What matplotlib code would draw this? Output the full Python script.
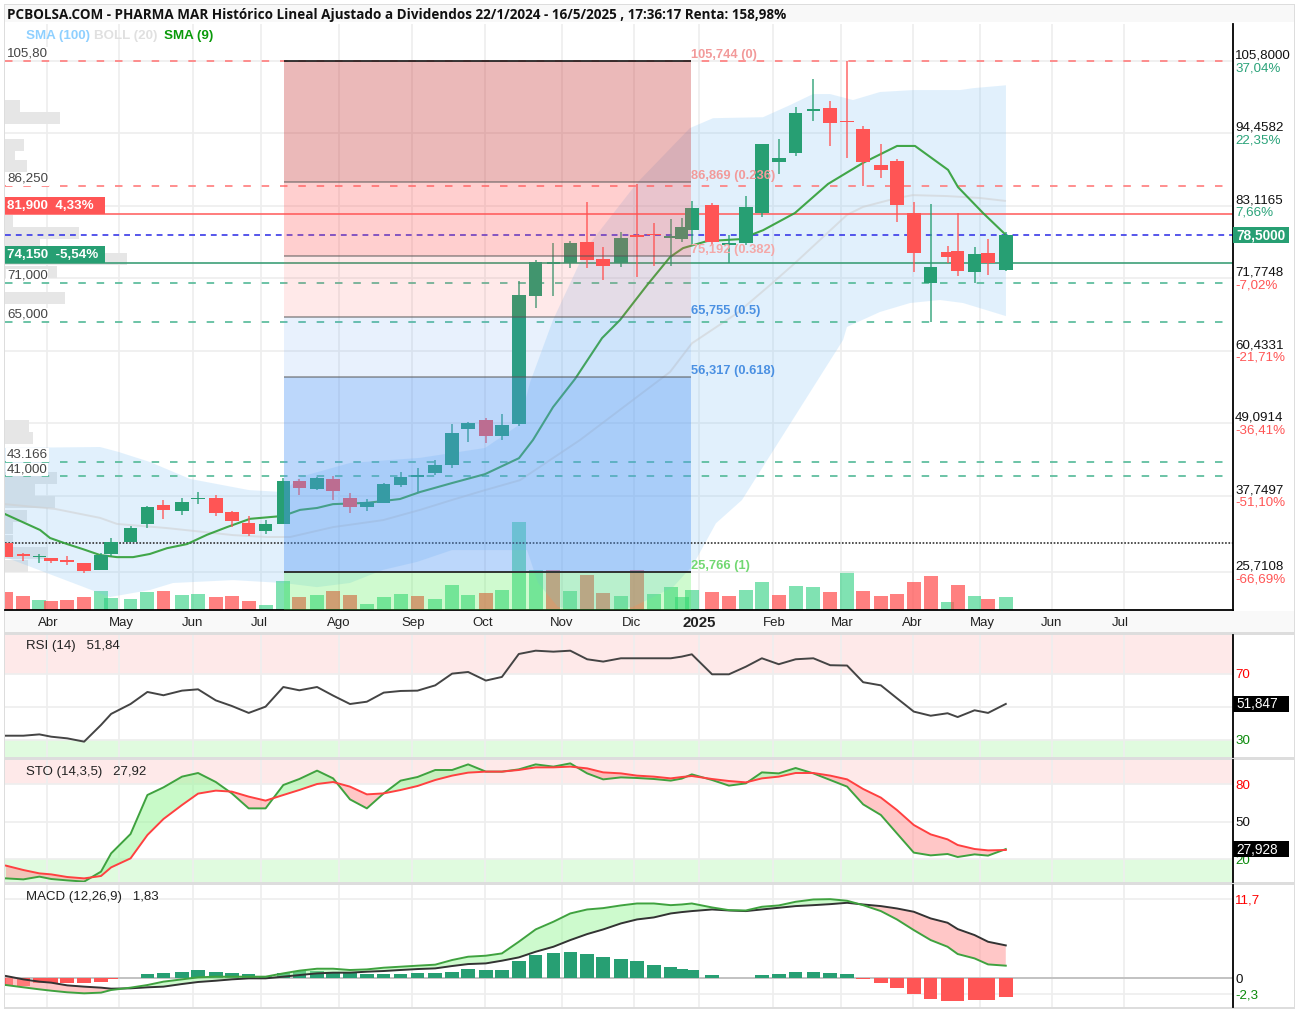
import numpy as np
import matplotlib
matplotlib.use("Agg")
import matplotlib.pyplot as plt
from matplotlib.patches import Rectangle

plt.rcParams['font.family'] = ['Liberation Sans', 'DejaVu Sans']

# ---------- data ----------
bar_week = [-0.18,0.85,1.8,2.5,3.45,4.45,5.45,6.05,7.2,8.2,9.15,10.25,11.2,12.25,13.2,14.2,15.2,16.25,17.2,18.25,
            19.2,20.2,21.2,22.2,23.2,24.2,25.25,26.25,27.2,28.25,29.2,30.2,31.2,32.25,33.25,34.25,35.2,36.25,37.2,38.2,
            39.2,39.85,40.45,41.65,42.65,43.65,44.6,45.6,46.6,47.65,48.65,49.65,50.6,51.65,52.6,53.6,54.6,55.6,56.2,57.2,58.0,59.05]
opens = [30.35,28.5,28.05,28.0,27.5,27.2,26.03,28.6,30.5,33.3,36.2,35.25,37.15,37.35,35.2,33.5,32.15,33.3,40.1,38.75,
         40.35,37.35,35.9,36.6,39.4,40.65,41.25,42.5,48.2,49.5,47.1,49.0,69.0,74.0,74.1,77.5,74.75,74.1,78.4,78.65,
         78.15,77.9,79.35,83.2,76.95,77.25,82.04,89.93,91.35,98.05,98.45,96.4,95.15,89.45,90.2,82.0,71.08,75.9,76.1,72.7,75.75,73.1]
highs = [30.35,28.8,28.6,28.0,28.3,27.2,28.8,31.08,32.97,36.15,37.04,37.3,38.35,37.8,35.3,34.5,33.85,40.55,40.4,40.6,
         40.8,38.1,37.15,39.7,41.5,42.0,43.3,48.95,49.25,49.9,50.5,71.4,74.65,77.34,77.6,83.76,76.7,79.07,86.55,80.4,
         81.0,81.25,83.9,83.5,78.55,84.7,92.8,93.54,98.65,102.93,99.6,105.85,95.65,92.75,90.4,83.75,83.35,76.85,81.95,76.7,77.9,79.1]
lows = [28.07,27.45,27.2,27.2,26.85,25.65,26.03,28.2,30.5,32.65,34.1,34.7,36.35,34.5,32.8,31.45,31.75,33.3,37.8,38.6,
        37.05,34.95,35.25,36.55,39.05,38.35,40.95,42.05,46.15,45.95,46.45,48.65,67.07,69.0,73.4,73.4,71.5,73.5,71.9,73.7,
        73.7,77.5,77.0,77.0,74.2,77.0,81.4,88.05,90.9,96.4,92.5,90.55,86.3,87.45,80.55,72.7,65.0,74.2,72.2,71.1,72.3,72.9]
closes = [28.07,28.35,28.2,27.5,27.35,25.95,28.43,30.5,32.7,36.0,35.47,36.7,37.3,35.05,33.7,31.7,33.3,40.1,38.95,40.5,
          38.4,35.9,36.75,39.55,40.7,40.8,42.5,47.6,49.1,47.1,48.75,69.1,74.37,74.3,77.34,74.65,73.65,78.1,78.25,78.5,
          78.4,79.85,82.8,77.45,77.1,83.0,92.75,90.65,97.65,98.2,96.05,96.2,89.95,88.8,83.3,75.7,73.55,75.05,72.9,75.55,74.2,78.5]
volume = [17.7,14,10.3,8.7,10.3,12.7,19,12.3,11.3,17.7,19,15.3,16.3,12.7,14,9,5.3,28.7,12.7,15.3,19,15.3,6.3,12.7,16.3,14,
          10.7,25.3,15.3,16.7,20.3,88,40.3,40.3,19.3,35.3,16.7,14,40.3,16.3,23,12.7,20.3,18,14,20.3,28,15.3,24.3,23,18,39,
          19.3,14,16.3,28,34,7.7,25.3,14,11.3,12.7]
volume_dir = "RRGRRRGGGGRGGRRRGGRGRRGGGRGGGRGGGRGRRGRGGGGRRGGRGGRGRRRRRGRGRG"

sma9_week = [-0.24,1.84,2.43,3.44,4.38,5.39,6.4,7.35,8.35,9.36,10.55,11.73,12.91,14.28,16.23,17.24,18.25,19.19,21.21,23.16,
             24.35,26.24,28.2,30.21,31.04,32.23,33.53,35.13,36.2,37.8,39.16,39.93,41.35,43.31,44.67,46.56,48.52,50.59,52.61,53.67,55.63,56.22,57.7,59.0]
sma9 = [34.85,32.35,31.1,30.15,29.35,28.43,28.1,28.1,28.6,29.5,30.15,31.6,32.8,34.1,34.55,35.5,35.8,36.4,36.6,37.2,
        38.3,39.7,41.1,43.6,46.45,51.6,56.0,62.4,65.25,70.7,75.1,76.5,77.6,77.9,79.3,82.0,86.55,89.85,92.5,92.5,88.75,86.05,82.0,78.7]
mid_week = [-0.24,2.73,5.39,6.4,9.36,13.27,15.28,16.65,19.19,22.16,24.35,26.24,28.2,30.27,33.83,39.16,40.46,43.13,45.08,46.56,49.64,50.59,52.61,53.55,55.57,57.52,59.0]
mid_line = [36.4,35.65,34.25,33.3,32.65,31.55,31.25,31.25,32.8,33.9,35.5,37.05,38.6,40.15,46.45,57.1,61.6,66.3,70.7,74.15,81.7,82.95,84.35,84.8,84.65,84.35,83.9]
upper_week = [-0.24,5.39,6.46,8.35,10.72,14.22,16.23,17.24,20.2,24.35,28.2,30.21,30.86,32.23,34.24,37.2,40.34,41.71,44.67,46.27,47.63,48.64,50.0,51.6,53.55,56.34,57.11,59.06]
upper_band = [45.2,45.35,44.6,43.0,40.35,38.6,38.3,40.65,42.85,43.65,45.2,48.8,55.4,65.25,76.65,86.7,95.3,96.85,97.0,98.9,100.63,100.63,99.69,100.95,101.25,101.25,101.55,102.0]
lower_week = [-0.24,5.98,8.35,9.72,13.27,16.23,18.25,20.2,22.16,24.17,26.24,30.69,31.34,32.52,34.42,36.97,39.34,40.52,41.88,43.42,49.41,49.64,51.6,53.38,55.15,56.52,59.06]
lower_band = [28.1,21.85,22.95,24.05,24.5,24.05,23.4,24.05,26.1,27.35,29.2,29.2,24.05,20.3,19.5,20.3,23.4,26.85,33.4,37.04,62.1,64.15,66.5,67.9,68.37,67.9,65.85]

profile_price = [98.83,96.87,92.72,90.76,89.43,80.74,78.86,77.14,74.79,72.75,68.69,48.63,46.75,40.49,38.69,36.73,34.6,32.7,30.6,28.7,26.7]
profile_size = [15,55,19,10,22,8,74,35,122,52,60,24,28,52,30,50,22,8,8,43,23]

fib_levels = [105.744,86.869,75.192,65.755,56.317,25.766]
fib_names = ["105,744 (0)","86,869 (0.236)","75,192 (0.382)","65,755 (0.5)","56,317 (0.618)","25,766 (1)"]
fib_start, fib_end = 16.29, 40.4

dashed_red = [105.8,86.25]
dashed_green = [71.0,65.0,43.0,40.85]
last_price = 78.5
resistance, support = 81.9, 74.15
dotted_level = 30.3

price_ticks = [105.8,94.4582,83.1165,71.7748,60.4331,49.0914,37.7497,25.7108]
price_names = ["105,8000","94,4582","83,1165","71,7748","60,4331","49,0914","37,7497","25,7108"]
pct_names = ["37,04%","22,35%","7,66%","-7,02%","-21,71%","-36,41%","-51,10%","-66,69%"]

month_week = [2.28,6.52,10.9,14.93,19.55,23.9,28.18,32.76,37.03,40.88,45.26,49.29,53.55,57.52,61.79,66.05]
month_label_week = [2.31,6.64,10.9,14.81,19.55,23.93,28.08,32.76,36.85,40.88,45.32,49.35,53.5,57.64,61.73,65.82]
month_names = ["Abr","May","Jun","Jul","Ago","Sep","Oct","Nov","Dic","2025","Feb","Mar","Abr","May","Jun","Jul"]

rsi = [32.6,32.6,33.4,32.0,31.0,29.0,39.1,45.8,51.8,59.1,57.1,59.9,60.7,54.0,50.6,46.4,50.2,62.1,60.1,62.1,
       56.9,51.8,53.2,58.7,59.7,59.9,63.1,70.2,71.2,66.0,68.2,82.1,84.1,83.5,84.1,78.9,77.5,79.5,79.5,79.5,
       79.5,80.5,81.9,69.8,69.8,74.4,79.5,75.9,78.9,79.5,75.3,75.1,65.0,63.1,55.3,47.2,44.7,46.2,43.9,48.0,46.4,51.85]
sto_k = [4.5,3.7,5.9,4.0,2.9,1.9,9.9,24.5,40.0,71.2,77.3,85.9,88.8,81.6,72.5,60.5,60.5,79.2,84.0,90.7,
         84.5,67.7,60.5,72.5,82.7,85.6,91.2,91.2,95.7,89.9,89.9,91.7,95.7,93.9,96.5,88.5,83.7,85.3,84.8,84.0,
         82.7,84.3,87.7,83.2,78.7,80.5,89.3,88.5,92.8,88.5,83.2,77.9,63.7,55.2,40.5,25.1,22.9,24.0,21.6,23.7,22.7,27.93]
sto_d = [14.7,11.2,8.5,7.7,5.6,4.5,6.4,13.3,20.5,39.2,52.0,63.2,72.3,74.7,73.9,69.9,66.7,71.2,75.2,80.0,
         81.6,77.9,71.7,72.5,75.2,78.4,83.2,86.7,89.1,89.9,89.9,91.2,93.3,93.3,93.9,92.5,89.3,88.5,86.7,85.9,
         84.5,85.6,86.4,84.0,82.4,81.3,84.5,85.9,88.8,88.8,86.7,83.7,76.0,69.1,59.2,47.2,39.7,35.7,31.2,28.0,26.9,27.2]
macd_line = [-1.04,-1.38,-1.68,-1.88,-2.12,-2.27,-2.17,-1.78,-1.43,-1.04,-0.54,-0.2,0.1,0.2,0.2,0.2,0.2,0.69,1.09,1.38,
             1.38,1.19,1.28,1.53,1.68,1.83,1.98,2.67,3.16,3.31,3.65,5.38,7.21,8.35,9.58,10.17,10.37,10.77,11.06,11.06,
             10.81,10.91,11.06,10.47,10.07,10.02,10.57,10.77,11.31,11.65,11.7,11.46,10.81,9.93,8.69,7.11,5.63,4.64,3.56,2.91,2.02,1.83]
macd_signal = [0.3,-0.2,-0.54,-0.69,-1.09,-1.28,-1.43,-1.58,-1.53,-1.38,-1.28,-0.89,-0.59,-0.4,-0.2,-0.05,-0.05,0.2,0.44,0.69,
               0.79,0.79,0.94,1.04,1.19,1.33,1.43,1.78,2.07,2.17,2.57,3.06,3.9,4.64,5.63,6.52,7.21,8.1,8.69,8.99,
               9.58,9.78,9.93,10.17,10.02,9.93,10.17,10.42,10.67,10.81,10.96,11.16,10.91,10.67,10.32,9.83,8.84,8.2,7.26,6.37,5.38,4.84]
macd_hist = [-1.14,-1.14,-0.79,-0.79,-0.79,-0.79,-0.54,-0.1,0,0.59,0.79,0.94,1.14,0.94,0.79,0.64,0.35,0.69,1.09,1.09,
             0.94,0.69,0.64,0.59,0.59,0.69,0.74,0.94,1.38,1.14,1.14,2.47,3.41,3.75,3.9,3.56,3.16,2.81,2.47,2.0,
             1.68,1.33,1.14,0.4,0,0,0.4,0.59,0.94,0.94,0.79,0.59,-0.1,-0.69,-1.43,-2.37,-3.11,-3.36,-3.46,-3.26,-3.26,-2.77]

# ---------- style ----------
W, H = 1299, 1013
GREEN, RED = '#279F73', '#FF5555'
GRID = '#EEEEEE'
PX = 0.72
x_left, x_right = -0.237, 72.51
AXIS_W = 1228.0

fig = plt.figure(figsize=(W/100, H/100), dpi=100, facecolor='white')

def make_axes(top, bottom, left=5, right=1233):
    return fig.add_axes([left/W, 1-bottom/H, (right-left)/W, (bottom-top)/H])

def fig_rect(x0, y0, x1, y1, color, z=-5):
    fig.add_artist(Rectangle((x0/W, 1-y1/H), (x1-x0)/W, (y1-y0)/H, transform=fig.transFigure,
                             facecolor=color, edgecolor='none', zorder=z))

def fig_text(x, y, s, **kw):
    kw.setdefault('va', 'center')
    kw.setdefault('ha', 'left')
    return fig.text(x/W, 1-y/H, s, **kw)

fig_rect(5, 5, 1295, 22, '#F8F8F8')
fig_rect(5, 611, 1295, 633, '#F9F9F9')
for r in [(4, 4, 5, 1008), (1294, 4, 1295, 1008), (4, 4, 1295, 5), (4, 1007, 1295, 1009),
          (4, 632, 1295, 635), (4, 757, 1295, 760), (4, 882, 1295, 885)]:
    fig_rect(*r, '#DDDDDD', z=-4)

# ---------- main panel ----------
ax_vol = make_axes(24, 610)
ax = make_axes(24, 610)
ax_vol.set_zorder(1); ax.set_zorder(2); ax.patch.set_visible(False)

bw = np.array(bar_week)
op, hi, lo, cl = map(np.array, (opens, highs, lows, closes))

ax_vol.set_xlim(x_left, x_right); ax_vol.set_ylim(0, 586)
ax_vol.bar(bw, volume, width=0.82,
           color=[((43/255, 207/255, 128/255, 0.6) if d == 'G' else (1, 85/255, 85/255, 0.75)) for d in volume_dir],
           linewidth=0)
ax_vol.set_xticks(month_week); ax_vol.set_xticklabels([])
ax_vol.set_yticks([])
ax_vol.grid(axis='x', color=GRID, lw=1.2)
ax_vol.set_axisbelow(True)
ax_vol.tick_params(length=0)
for s in ax_vol.spines.values():
    s.set_visible(False)

ax.set_xlim(x_left, x_right)
ylo, yhi = 19.82, 111.6
ax.set_ylim(ylo, yhi)
ax.set_yticks(price_ticks); ax.set_yticklabels([])
ax.grid(axis='y', color=GRID, lw=1.2, zorder=0)
ax.set_axisbelow(True)
ax.tick_params(length=0)
ax.set_xticks([])
xtr = ax.get_xaxis_transform()
for xw, name in zip(month_label_week, month_names):
    bold = name == '2025'
    ax.annotate(name, (xw, 0), xycoords=xtr, xytext=(0, -13*PX), textcoords='offset points',
                fontsize=10.8 if bold else 9.5, fontweight='bold' if bold else 'normal',
                color='#222222', ha='center', va='center', annotation_clip=False)
for k in ('top', 'left'):
    ax.spines[k].set_visible(False)
ax.spines['right'].set_color('black'); ax.spines['right'].set_linewidth(1.3)
ax.spines['bottom'].set_color('black'); ax.spines['bottom'].set_linewidth(1.3)

ax.barh(profile_price, np.array(profile_size)/16.88, height=1.88, left=x_left,
        color='#E6E6E6', linewidth=0, zorder=1)

poly_x = list(upper_week) + list(lower_week)[::-1]
poly_y = list(upper_band) + list(lower_band)[::-1]
ax.fill(poly_x, poly_y, color=(120/255, 190/255, 245/255), alpha=0.22, lw=0, zorder=1.5)
ax.plot(mid_week, mid_line, color='#CFCFCF', lw=1.4, alpha=0.55, zorder=2)

for v in dashed_red:
    ax.axhline(v, color='#FF7C7C', lw=1.2, dashes=(4.5, 6.5), zorder=2.2)
for v in dashed_green:
    ax.axhline(v, color='#53B997', lw=1.2, dashes=(4.5, 6.5), zorder=2.2)
ax.axhline(resistance, color='#FF6666', lw=1.2, zorder=2.2)
ax.axhline(support, color='#3D9F78', lw=1.2, zorder=2.2)
ax.axhline(last_price, color='#3A3AE8', lw=1.2, dashes=(3.5, 3), zorder=2.2)
ax.axhline(dotted_level, color='#222222', lw=1.1, dashes=(1.1, 1.1), zorder=2.2)

ax.plot(sma9_week, sma9, color='#2F9E35', lw=1.5, alpha=0.9, zorder=2.4)

for x, o, h, l, c in zip(bw, op, hi, lo, cl):
    col = GREEN if c >= o else RED
    ax.vlines(x, l, h, color=col, lw=1.15, alpha=0.85, zorder=3)
    bot, top = min(o, c), max(o, c)
    ax.bar(x, max(top-bot, 0.28), bottom=bot, width=0.8, color=col, linewidth=0, zorder=3.1)

fib_bands = [(0, 1, (200/255, 55/255, 55/255), 0.35),
             (1, 2, (1, 80/255, 80/255), 0.27),
             (2, 3, (1, 80/255, 80/255), 0.12),
             (3, 4, (80/255, 150/255, 245/255), 0.13),
             (4, 5, (80/255, 150/255, 245/255), 0.38)]
for a, b, col, al in fib_bands:
    ax.fill_between([fib_start, fib_end], fib_levels[b], fib_levels[a], color=col, alpha=al, lw=0, zorder=4)
ax.fill_between([fib_start, fib_end], ylo, fib_levels[5], color=(80/255, 240/255, 80/255), alpha=0.27, lw=0, zorder=4)
for i, v in enumerate(fib_levels):
    is_end = i in (0, 5)
    ax.plot([fib_start, fib_end], [v, v], color='#222222' if is_end else '#555555',
            lw=1.4, alpha=0.9 if is_end else 0.5, zorder=4.2, solid_capstyle='butt')
fib_cols = ['#F29A9A', '#F29A9A', '#F4A8A8', '#4A90E2', '#4A90E2', '#72D872']
for v, name, col in zip(fib_levels, fib_names, fib_cols):
    ax.annotate(name, (fib_end, v), xytext=(0, 6*PX), textcoords='offset points',
                color=col, fontsize=9.3, fontweight='bold', va='center', ha='left', zorder=5)

def right_box(a, v, s, col, bold, height_units):
    ytrans = a.get_yaxis_transform()
    a.add_patch(Rectangle((1, v-height_units/2), 56/AXIS_W, height_units, transform=ytrans,
                          facecolor=col, edgecolor='none', clip_on=False, zorder=9))
    a.annotate(s, (1, v), xycoords=ytrans, xytext=(3*PX, -0.5*PX), textcoords='offset points',
               fontsize=9.8, color='white', fontweight='bold' if bold else 'normal',
               va='center', ha='left', annotation_clip=False, zorder=10)

ytr = ax.get_yaxis_transform()
for v, name, pct in zip(price_ticks, price_names, pct_names):
    ax.annotate(name, (1, v), xycoords=ytr, xytext=(2*PX, 5.5*PX), textcoords='offset points',
                fontsize=9.6, color='#111111', va='center', ha='left', annotation_clip=False)
    ax.annotate(pct, (1, v), xycoords=ytr, xytext=(2*PX, -7*PX), textcoords='offset points',
                fontsize=9.6, color=RED if pct.startswith('-') else '#2BA37A',
                va='center', ha='left', annotation_clip=False)
right_box(ax, last_price, "78,5000", GREEN, True, 16/6.385)

left_labels = [("105,80", 105.8, 7.5), ("86,250", 86.25, 7), ("71,000", 71.0, 7.5), ("65,000", 65.0, 7),
               ("43.166", 43.0, 7), ("41,000", 40.85, 6.5)]
for s, v, off in left_labels:
    ax.annotate(s, (0, v), xycoords=ytr, xytext=(2*PX, off*PX), textcoords='offset points',
                fontsize=9.6, color='#444444', va='center', ha='left', zorder=6,
                bbox=dict(boxstyle='square,pad=0.05', fc='white', ec='none'))
for s, v, col in [("81,900  4,33%", resistance, RED), ("74,150  -5,54%", support, GREEN)]:
    ax.add_patch(Rectangle((0, v), 100/AXIS_W, 17/6.385, transform=ytr, facecolor=col, edgecolor='none', zorder=6))
    ax.annotate(s, (0, v), xycoords=ytr, xytext=(2*PX, 8*PX), textcoords='offset points',
                fontsize=9.6, color='white', fontweight='bold', va='center', ha='left', zorder=7)

# ---------- lower panes ----------
def pane(top, bottom, ylim, yticks=()):
    a = make_axes(top, bottom)
    a.set_xlim(x_left, x_right); a.set_ylim(*ylim)
    a.set_xticks(month_week); a.set_xticklabels([])
    a.set_yticks(list(yticks)); a.set_yticklabels([])
    a.grid(True, color=GRID, lw=1.2); a.set_axisbelow(True)
    a.tick_params(length=0)
    for k in ('top', 'left', 'bottom'):
        a.spines[k].set_visible(False)
    a.spines['right'].set_color('black'); a.spines['right'].set_linewidth(1.3)
    return a

def side(a, v, s, col):
    a.annotate(s, (1, v), xycoords=a.get_yaxis_transform(), xytext=(2*PX, -1.5*PX), textcoords='offset points',
               fontsize=9.6, color=col, va='center', ha='left', annotation_clip=False)

PINK, MINT = '#FEE9E9', '#E0FBDF'

a1 = pane(635, 757, (19.7, 93.6), (30, 50, 70))
a1.axhspan(70, 93.6, color=PINK, lw=0, zorder=0.5)
a1.axhspan(19.7, 30, color=MINT, lw=0, zorder=0.5)
a1.plot(bw, rsi, color='#444444', lw=1.4, zorder=3)
side(a1, 70, "70", '#FF0000'); side(a1, 30, "30", '#0A8A0A')
right_box(a1, rsi[-1], "51,847", 'black', False, 16/1.65)
fig_text(26, 646.5, "RSI (14)   51,84", fontsize=9.5, color='#222222')

a2 = pane(760, 882, (1.6, 99.2), (20, 50, 80))
a2.axhspan(80, 99.2, color=PINK, lw=0, zorder=0.5)
a2.axhspan(1.6, 20, color=MINT, lw=0, zorder=0.5)
k, d = np.array(sto_k), np.array(sto_d)
a2.fill_between(bw, k, d, where=k >= d, interpolate=True, color='#9CF79C', alpha=0.55, lw=0, zorder=2)
a2.fill_between(bw, k, d, where=k <= d, interpolate=True, color='#FF9A9A', alpha=0.55, lw=0, zorder=2)
a2.plot(bw, k, color='#3FA23F', lw=1.4, zorder=3)
a2.plot(bw, d, color='#FF4040', lw=1.4, zorder=3.1)
side(a2, 80, "80", '#FF0000'); side(a2, 50, "50", '#111111'); side(a2, 20, "20", '#0A8A0A')
right_box(a2, 27.93, "27,928", 'black', False, 16/1.25)
fig_text(26, 771.5, "STO (14,3,5)   27,92", fontsize=9.5, color='#222222')

a3 = pane(885, 1007, (-4.3, 13.8), (-2.3, 0, 11.7))
mh = np.array(macd_hist)
a3.bar(bw, mh, width=0.8, color=[GREEN if v >= 0 else RED for v in mh], linewidth=0, zorder=2)
a3.axhline(0, color='#BBBBBB', lw=1.2, zorder=1.5)
m, sg = np.array(macd_line), np.array(macd_signal)
a3.fill_between(bw, m, sg, where=m >= sg, interpolate=True, color='#9CF79C', alpha=0.5, lw=0, zorder=2.5)
a3.fill_between(bw, m, sg, where=m <= sg, interpolate=True, color='#FF9A9A', alpha=0.55, lw=0, zorder=2.5)
a3.plot(bw, sg, color='#333333', lw=1.4, zorder=3)
a3.plot(bw, m, color='#3FA23F', lw=1.4, zorder=3.1)
side(a3, 11.7, "11,7", '#FF0000'); side(a3, 0, "0", '#111111'); side(a3, -2.3, "-2,3", '#0A8A0A')
fig_text(26, 896.5, "MACD (12,26,9)   1,83", fontsize=9.5, color='#222222')

# ---------- header ----------
fig_text(7, 14.5, "PCBOLSA.COM - PHARMA MAR Histórico Lineal Ajustado a Dividendos 22/1/2024 - 16/5/2025 , 17:36:17 Renta: 158,98%",
         fontsize=9.75, fontweight='bold', family=['Open Sans', 'DejaVu Sans'], color='#111111')
fig_text(26, 35.5, "SMA (100)", fontsize=9.6, fontweight='bold', color='#8FD0FF', zorder=10)
fig_text(94, 35.5, "BOLL (20)", fontsize=9.6, fontweight='bold', color='#E0E0E0', zorder=10)
fig_text(164, 35.5, "SMA (9)", fontsize=9.6, fontweight='bold', color='#0A9A0A', zorder=10)

fig.savefig("out.png", dpi=100, facecolor='white')
